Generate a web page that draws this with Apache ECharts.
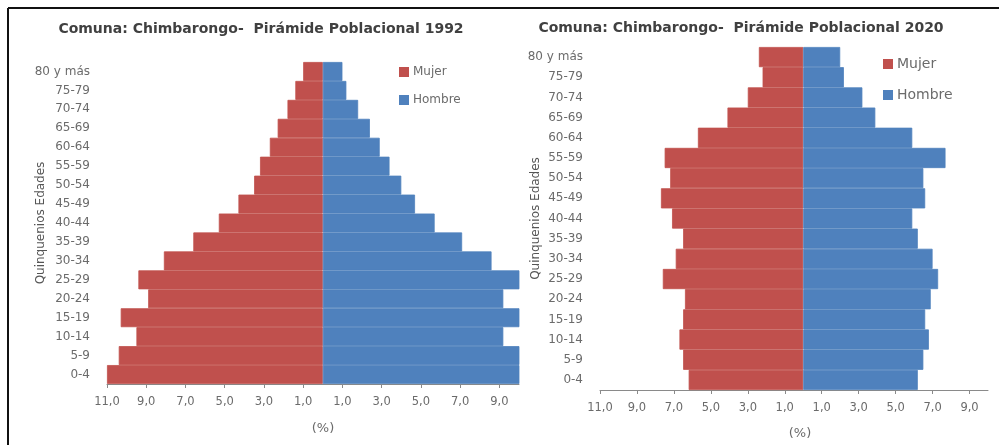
<!DOCTYPE html>
<html>
<head>
<meta charset="utf-8">
<script src="https://cdn.jsdelivr.net/npm/echarts@6/dist/echarts.min.js"></script>
<style>
html,body{margin:0;padding:0;background:#fff;}
#chart{width:999px;height:445px;}
</style>
</head>
<body>
<div id="chart"></div>
<script>
const categories = ['0-4','5-9','10-14','15-19','20-24','25-29','30-34','35-39','40-44','45-49','50-54','55-59','60-64','65-69','70-74','75-79','80 y más'];
const mujer1992  = [11.0, 10.4, 9.5, 10.3, 8.9, 9.4, 8.1, 6.6, 5.3, 4.3, 3.5, 3.2, 2.7, 2.3, 1.8, 1.4, 1.0];
const hombre1992 = [11.2, 10.6, 9.2, 10.5, 9.2, 10.2, 8.6, 7.1, 5.7, 4.7, 4.0, 3.4, 2.9, 2.4, 1.8, 1.2, 1.0];
const mujer2020  = [6.2, 6.5, 6.7, 6.5, 6.4, 7.6, 6.9, 6.5, 7.1, 7.7, 7.2, 7.5, 5.7, 4.1, 3.0, 2.2, 2.4];
const hombre2020 = [6.2, 6.5, 6.8, 6.6, 6.9, 7.3, 7.0, 6.2, 5.9, 6.6, 6.5, 7.7, 5.9, 3.9, 3.2, 2.2, 2.0];
const tickValues = [-11, -9, -7, -5, -3, -1, 1, 3, 5, 7, 9];
const titles = ['Comuna: Chimbarongo-  Pirámide Poblacional 1992', 'Comuna: Chimbarongo-  Pirámide Poblacional 2020'];

const RED = '#C0504D', BLUE = '#4F81BD';
const FONT = 'DejaVu Sans';
const labelColor = '#6b6b6b';
const fmt = v => Math.abs(v).toFixed(1).replace('.', ',');

function xAxisFor(gridIndex, pad, gap) {
  return {
    type: 'value', gridIndex: gridIndex, min: -11, max: 10,
    axisLine: {show: true, lineStyle: {color: '#8a8a8a', width: 1}},
    axisTick: {show: true, length: 4, customValues: tickValues, lineStyle: {color: '#8a8a8a'}},
    axisLabel: {customValues: tickValues, formatter: fmt, color: labelColor, fontFamily: FONT, fontSize: 11.5, margin: 12},
    splitLine: {show: false},
    name: '(%)', nameLocation: 'middle', nameGap: gap, nameMoveOverlap: false,
    nameTextStyle: {color: labelColor, fontFamily: FONT, fontSize: 13, padding: [0, 0, 0, pad]}
  };
}
function yAxisFor(gridIndex, gap) {
  return {
    type: 'category', gridIndex: gridIndex, data: categories,
    axisLine: {show: false, onZero: false}, axisTick: {show: false},
    axisLabel: {color: labelColor, fontFamily: FONT, fontSize: 12, margin: 17, interval: 0},
    name: 'Quinquenios Edades', nameLocation: 'middle', nameRotate: 90, nameGap: gap, nameMoveOverlap: false,
    nameTextStyle: {color: '#555', fontFamily: FONT, fontSize: 12}
  };
}
function barSeries(name, data, idx, color, sign) {
  return {
    name: name, type: 'bar', xAxisIndex: idx, yAxisIndex: idx,
    data: data.map(v => sign * v),
    barGap: '-100%', barCategoryGap: '0%',
    itemStyle: {color: color, borderColor: color, borderWidth: 0.8}, clip: true, silent: true
  };
}

const chart = echarts.init(document.getElementById('chart'), null, {renderer: 'canvas'});
chart.setOption({
  animation: false,
  backgroundColor: '#fff',
  color: [RED, BLUE],
  title: [
    {text: titles[0], left: 261, top: 22, textAlign: 'center', padding: 0,
     textStyle: {fontFamily: FONT, fontSize: 14, fontWeight: 'bold', color: '#404040'}},
    {text: titles[1], left: 741, top: 21, textAlign: 'center', padding: 0,
     textStyle: {fontFamily: FONT, fontSize: 14, fontWeight: 'bold', color: '#404040'}}
  ],
  legend: [
    {data: ['Mujer', 'Hombre'], orient: 'vertical', left: 399, top: 66, itemWidth: 8, itemHeight: 8, itemGap: 16,
     icon: 'rect', padding: 0, selectedMode: false,
     textStyle: {fontFamily: FONT, fontSize: 12, color: labelColor}},
    {data: ['Mujer', 'Hombre'], orient: 'vertical', left: 883, top: 57, itemWidth: 8, itemHeight: 8, itemGap: 17,
     icon: 'rect', padding: 0, selectedMode: false,
     textStyle: {fontFamily: FONT, fontSize: 14, color: labelColor}}
  ],
  grid: [
    {left: 107, top: 62, width: 412, height: 322, containLabel: false},
    {left: 600, top: 47, width: 388, height: 343, containLabel: false}
  ],
  xAxis: [xAxisFor(0, 20, 38), xAxisFor(1, 12, 37)],
  yAxis: [yAxisFor(0, 60), yAxisFor(1, 58)],
  series: [
    barSeries('Mujer', mujer1992, 0, RED, -1),
    barSeries('Hombre', hombre1992, 0, BLUE, 1),
    barSeries('Mujer', mujer2020, 1, RED, -1),
    barSeries('Hombre', hombre2020, 1, BLUE, 1)
  ],
  graphic: [
    {type: 'line', shape: {x1: 8, y1: 8, x2: 999, y2: 8}, style: {stroke: '#111', lineWidth: 2}, silent: true},
    {type: 'line', shape: {x1: 8, y1: 8, x2: 8, y2: 445}, style: {stroke: '#111', lineWidth: 2}, silent: true}
  ]
});
</script>
</body>
</html>
